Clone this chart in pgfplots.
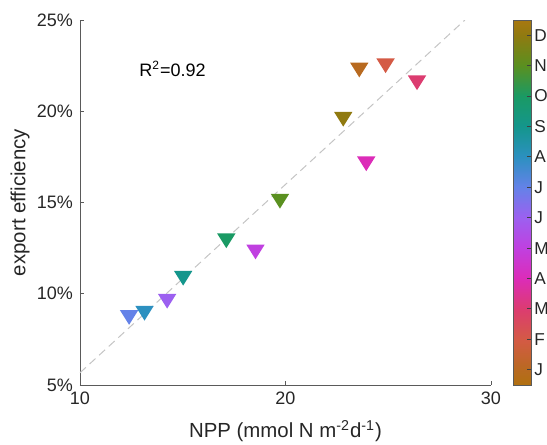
\documentclass[border=0pt]{standalone}
\usepackage{fontspec}
\setmainfont{Liberation Sans}
\usepackage{pgfplots}
\usepackage{pgfplotstable}
\pgfplotsset{compat=1.18}

\definecolor{axgray}{RGB}{90,90,90}
\definecolor{txt}{RGB}{38,38,38}
\definecolor{fitgray}{RGB}{196,196,196}

% downward triangle centred on its bounding box
\pgfdeclareplotmark{dtri}{%
  \pgfpathmoveto{\pgfpoint{-\pgfplotmarksize}{0.8\pgfplotmarksize}}%
  \pgfpathlineto{\pgfpoint{\pgfplotmarksize}{0.8\pgfplotmarksize}}%
  \pgfpathlineto{\pgfpoint{0pt}{-0.8\pgfplotmarksize}}%
  \pgfpathclose
  \pgfusepathqfill}

% monthly NPP and export efficiency
\pgfplotstableread{
month npp ee
1  23.59 22.26
2  24.87 22.49
3  26.40 21.56
4  23.93 17.12
5  18.54 12.29
6  14.24 9.59
7  12.39 8.70
8  13.14 8.93
9  15.02 10.85
10 17.12 12.90
11 19.73 15.07
12 22.81 19.56
}\monthly

\pgfplotsset{
  colormap={monthphase}{
    rgb255(0)=(176,112,16) rgb255(1)=(184,106,32) rgb255(3)=(212,90,69)
    rgb255(5)=(220,60,112) rgb255(7)=(220,44,184) rgb255(9)=(192,64,224)
    rgb255(11)=(156,96,240) rgb255(13)=(100,130,232) rgb255(15)=(44,144,192)
    rgb255(17)=(20,150,140) rgb255(19)=(26,154,100) rgb255(21)=(90,144,32)
    rgb255(23)=(144,122,16) rgb255(24)=(168,120,16)}
}

\begin{document}
\begin{tikzpicture}
\begin{axis}[
  scale only axis,
  width=205.5pt, height=182.5pt,
  xmin=10, xmax=30, ymin=5, ymax=25,
  xtick={10,20,30},
  ytick={5,10,15,20,25},
  yticklabels={5\%,10\%,15\%,20\%,25\%},
  axis lines*=left,
  axis line style={axgray, line width=0.45pt},
  tick style={axgray, line width=0.45pt},
  tick align=inside,
  major tick length=2pt,
  /pgf/number format/assume math mode=true,
  ticklabel style={font=\fontsize{9}{11}\selectfont, text=txt},
  label style={font=\fontsize{10.2}{12}\selectfont, text=txt},
  xlabel={NPP (mmol N m\textsuperscript{-2}d\textsuperscript{-1})},
  xlabel style={at={(axis description cs:0.5,0)}, anchor=base, yshift=-26.5pt},
  ylabel={export efficiency},
  ylabel style={at={(axis description cs:-0.133,0.5)}, anchor=base},
  colormap name=monthphase,
  point meta min=0.5, point meta max=12.5,
  colorbar,
  colorbar style={
    at={(parent axis.north east)}, anchor=north west,
    xshift=2.5pt, width=9pt,
    axis on top,
    ytick={1,...,12},
    yticklabels={J,F,M,A,M,J,J,A,S,O,N,D},
    ytick pos=right,
    tick align=inside,
    major tick length=2pt,
    tick style={black!75, line width=0.5pt},
    axis line style={axgray, line width=0.4pt},
    yticklabel style={font=\fontsize{8.6}{10}\selectfont, text=txt,
      inner xsep=1.5pt},
  },
]
\coordinate (O) at (rel axis cs:0,0);
% least-squares fit
\addplot[fitgray, line width=0.5pt, dash pattern=on 4pt off 2.5pt]
  coordinates {(10,5.67) (28.73,25)};
\addplot[scatter, only marks, mark=dtri, mark size=4.6pt,
  point meta=explicit,
  scatter/use mapped color={draw=mapped color, fill=mapped color}]
  table[x=npp, y=ee, meta=month] {\monthly};
\node[anchor=base west, inner sep=0pt, font=\fontsize{9}{11}\selectfont, text=black]
  at (axis cs:12.87,21.88) {R\textsuperscript{2}=0.92};
\end{axis}
\pgfresetboundingbox
\path[use as bounding box] (O) ++(-40pt,-30pt) rectangle ++(273.5pt,222.5pt);
\end{tikzpicture}
\end{document}
